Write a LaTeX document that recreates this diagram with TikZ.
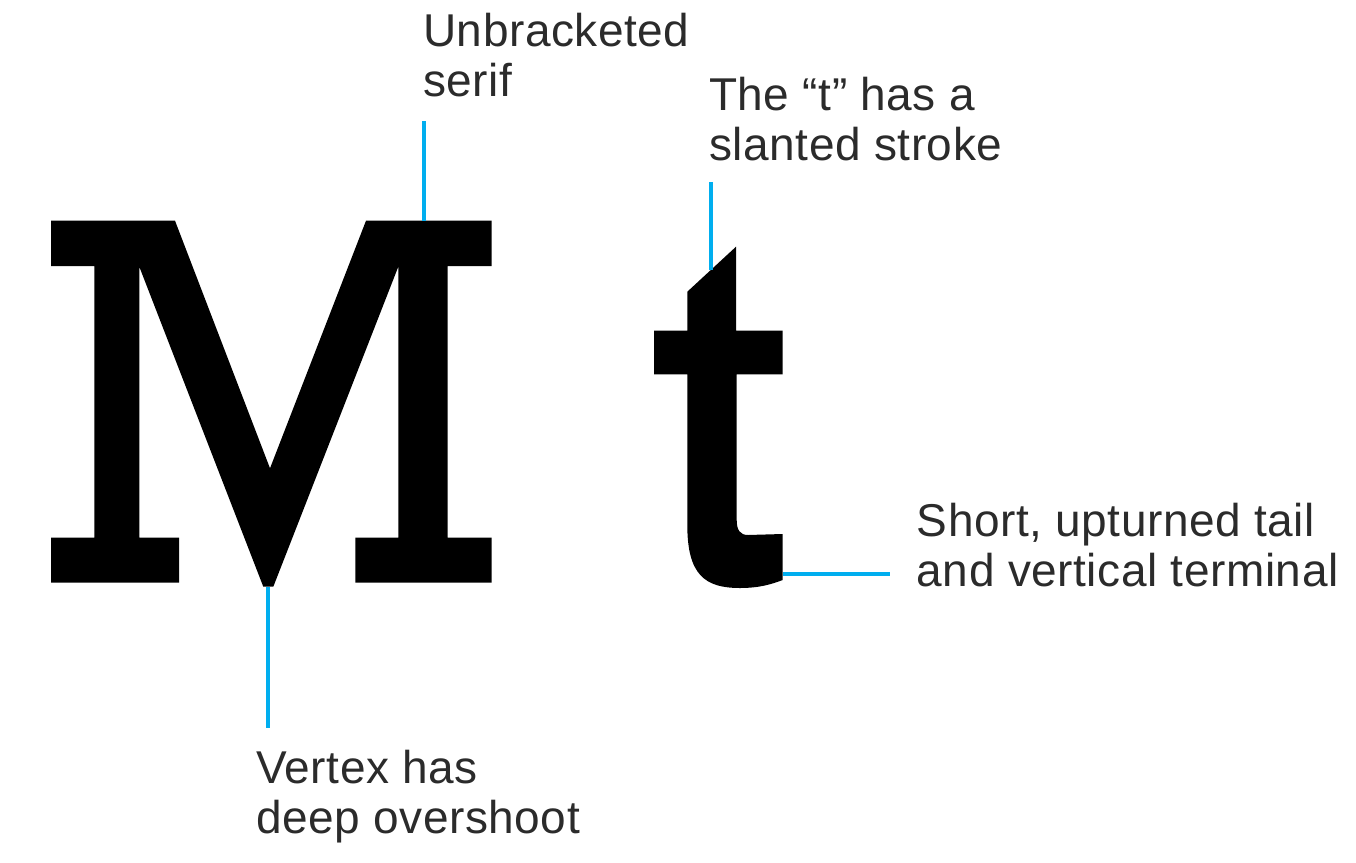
\documentclass[tikz,border=0pt]{standalone}
\usepackage{fontspec}
\setmainfont[LetterSpace=1.2]{Liberation Sans}
\definecolor{leadblue}{HTML}{00AEEF}
\definecolor{labelgray}{HTML}{2B2B2B}
\begin{document}
\begin{tikzpicture}[x=1pt,y=-1pt,
  glyph/.style={fill=black, draw=none},
  leader/.style={draw=leadblue, line width=4pt},
  lbl/.style={font=\fontsize{46}{50}\selectfont, text=labelgray, align=left, inner sep=0pt, anchor=base west}]
\useasboundingbox (0,0) rectangle (1356,862);
% letter M
\fill[glyph] (51,220.7) -- (175,220.7) -- (270,468.3) -- (366,220.7) -- (491.7,220.7)
  -- (491.7,266) -- (447.7,266) -- (447.7,537.7) -- (491.7,537.7) -- (491.7,582.7)
  -- (355.3,582.7) -- (355.3,537.7) -- (398.3,537.7) -- (398.3,266.7)
  -- (273.3,586.7) -- (263.3,586.7) -- (139.3,266.7) -- (139.3,537.7)
  -- (179,537.7) -- (179,582.7) -- (51,582.7) -- (51,537.7) -- (94.3,537.7)
  -- (94.3,266) -- (51,266) -- cycle;
% letter t
\fill[glyph] (687.3,291.7) -- (736,246.7) -- (736,330.7) -- (782.7,330.7) -- (782.7,374.3)
  -- (736.7,374.3) -- (736.7,520) .. controls (736.7,530) and (740,535) .. (748,535)
  -- (782.7,534) -- (782.7,580) .. controls (772,584) and (760,588) .. (740,588)
  .. controls (705,588) and (687.3,575) .. (687.3,525) -- (687.3,374.3)
  -- (654,374.3) -- (654,330.7) -- (687.3,330.7) -- cycle;
% anchor points on the glyphs and free ends of the leaders
\coordinate (serif) at (424.3,220.7);
\coordinate (serifEnd) at (424.3,120.7);
\coordinate (vertex) at (268.3,586.7);
\coordinate (vertexEnd) at (268.3,727.7);
\coordinate (slant) at (711,269.8);
\coordinate (slantEnd) at (711,182.3);
\coordinate (tail) at (783.3,574);
\coordinate (tailEnd) at (890,574);
% leaders
\draw[leader] (serif) -- (serifEnd);
\draw[leader] (vertex) -- (vertexEnd);
\draw[leader] (slant) -- (slantEnd);
\draw[leader] (tail) -- (tailEnd);
% labels (base anchor = baseline of the last line)
\node[lbl] (lserif) at (423,96.7) {Unbracketed\\serif};
\node[lbl] (lslant) at (709,160) {The “t” has a\\slanted stroke};
\node[lbl] (ltail) at (916.7,586.7) {Short, upturned tail\\and vertical terminal};
\node[lbl] (lvertex) at (256,833.3) {Vertex has\\deep overshoot};
\end{tikzpicture}
\end{document}
